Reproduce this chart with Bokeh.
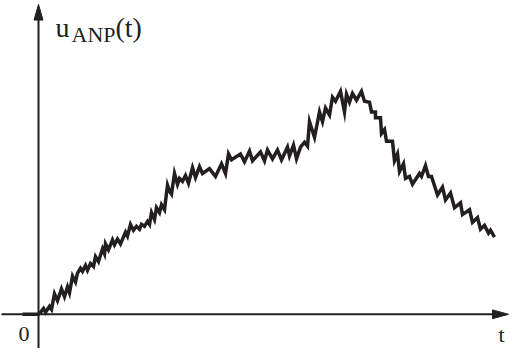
from bokeh.plotting import figure
from bokeh.models import Range1d
from bokeh.core.properties import value
from bokeh.embed import file_html
from bokeh.resources import INLINE

# time (t) and signal u_ANP(t) (arbitrary units)
t_vals = [-16, 0, 2, 5, 7, 11, 13, 16, 19, 23, 26, 29, 31, 34, 37, 39, 42, 44, 47, 49,
          52, 55, 57, 60, 64, 66, 67, 70, 74, 76, 79, 82, 87, 89, 92, 95, 98, 101, 103, 106,
          109, 111, 113, 116, 118, 121, 123, 126, 129, 131, 133, 136, 139, 141, 144, 147, 150, 154, 157, 161,
          164, 171, 177, 183, 187, 190, 193, 202, 206, 211, 214, 222, 226, 229, 234, 239, 243, 249, 251, 255,
          258, 262, 266, 269, 271, 276, 281, 284, 287, 291, 294, 297, 302, 306, 308, 311, 314, 318, 323, 326,
          331, 333, 337, 337, 342, 343, 346, 348, 354, 356, 359, 361, 365, 367, 371, 374, 381, 383, 387, 390,
          393, 399, 404, 407, 412, 416, 422, 424, 431, 434, 439, 442, 446, 450, 452, 456]
u_vals = [0, 0, 2, 6, 2, 8, 5, 21, 14, 26, 18, 28, 22, 39, 33, 42, 47, 44, 50, 45,
          52, 49, 59, 54, 67, 62, 72, 66, 76, 71, 77, 72, 84, 80, 92, 86, 90, 87, 92, 90,
          95, 92, 104, 97, 109, 104, 112, 107, 132, 126, 123, 144, 133, 139, 136, 142, 134, 150, 140, 151,
          144, 149, 141, 154, 144, 164, 158, 164, 156, 167, 157, 166, 157, 168, 159, 168, 158, 171, 162, 173,
          159, 171, 176, 172, 197, 181, 207, 197, 211, 204, 222, 218, 228, 207, 225, 217, 226, 219, 228, 218,
          217, 207, 207, 201, 201, 185, 189, 177, 177, 157, 164, 146, 154, 139, 141, 133, 144, 141, 152, 141,
          141, 122, 130, 117, 124, 109, 114, 102, 107, 94, 99, 87, 91, 83, 86, 79]

y_label_main = "u"
y_label_sub = "ANP"
y_label_tail = "(t)"
x_label = "t"
origin_label = "0"

INK = "#231f20"
FONT = value("Liberation Serif")

# axis geometry (data units ~ pixels)
Y_TOP = 317
X_END = 470
HEAD_LEN = 16
HEAD_HALF = 4.5

p = figure(width=509, height=348,
           x_range=Range1d(-38, 471), y_range=Range1d(-35, 321),
           output_backend="svg", toolbar_location=None, min_border=0,
           x_axis_location=None, y_axis_location=None)
p.grid.visible = False
p.outline_line_color = None
p.background_fill_color = "white"
p.border_fill_color = "white"

# axes with arrow heads
p.line([0, 0], [-40, Y_TOP - HEAD_LEN + 2], line_color=INK, line_width=2)
p.patch([-HEAD_HALF, 0, HEAD_HALF], [Y_TOP - HEAD_LEN, Y_TOP, Y_TOP - HEAD_LEN],
        fill_color=INK, line_color=INK, line_width=1)
p.line([-37, X_END - HEAD_LEN + 2], [0, 0], line_color=INK, line_width=2)
p.patch([X_END - HEAD_LEN, X_END, X_END - HEAD_LEN], [-HEAD_HALF, 0, HEAD_HALF],
        fill_color=INK, line_color=INK, line_width=1)

# signal
p.line(t_vals, u_vals, line_color=INK, line_width=3.5, line_join="miter")

# labels
p.text(x=[17], y=[293], text=[y_label_main], text_font=FONT, text_font_size="28px",
       text_color=INK, text_baseline="alphabetic", text_align="left")
p.text(x=[33], y=[286], text=[y_label_sub], text_font=FONT, text_font_size="22px",
       text_color=INK, text_baseline="alphabetic", text_align="left")
p.text(x=[77], y=[293], text=[y_label_tail], text_font=FONT, text_font_size="28px",
       text_color=INK, text_baseline="alphabetic", text_align="left")
p.text(x=[-20], y=[-20.5], text=[origin_label], text_font=FONT, text_font_size="22px",
       text_color=INK, text_baseline="alphabetic", text_align="left")
p.text(x=[460], y=[-20.5], text=[x_label], text_font=FONT, text_font_size="22px",
       text_color=INK, text_baseline="alphabetic", text_align="left")

open("out.html", "w").write(file_html(p, INLINE))
